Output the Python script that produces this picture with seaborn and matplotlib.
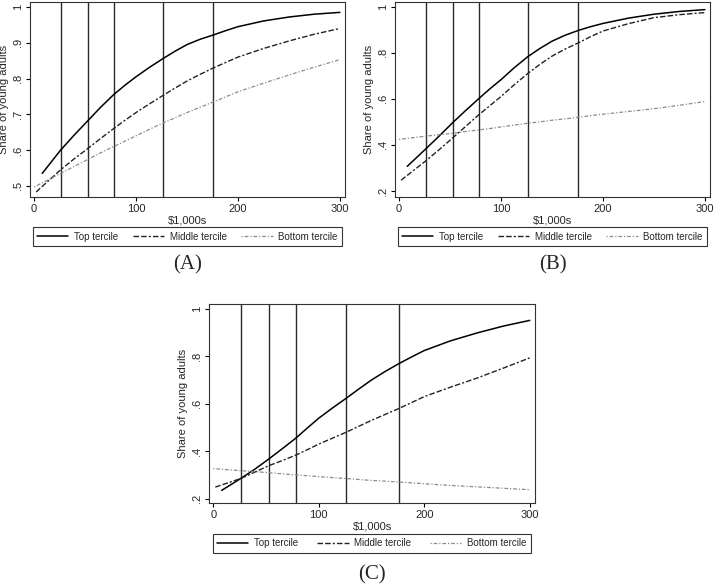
import matplotlib
matplotlib.use("Agg")
import matplotlib.pyplot as plt
import seaborn as sns

grid = [26, 39, 52, 65, 78, 89, 100, 113, 126, 138, 150, 163, 176, 188, 200, 225, 250, 275, 300]
x_top = [8] + grid
x_mid = [2] + grid
x_bot = [0] + grid

# panel A
a_top = [0.535, 0.600, 0.641, 0.680, 0.719, 0.755, 0.781, 0.805, 0.831, 0.855, 0.876,
         0.895, 0.910, 0.922, 0.934, 0.945, 0.961, 0.972, 0.980, 0.985]
a_mid = [0.483, 0.545, 0.575, 0.603, 0.632, 0.660, 0.683, 0.705, 0.729, 0.752, 0.773,
         0.793, 0.812, 0.830, 0.845, 0.860, 0.884, 0.905, 0.924, 0.940]
a_bot = [0.497, 0.535, 0.554, 0.573, 0.592, 0.610, 0.625, 0.640, 0.658, 0.675, 0.690,
         0.705, 0.720, 0.735, 0.749, 0.763, 0.787, 0.810, 0.832, 0.853]

# panel B
b_top = [0.307, 0.382, 0.437, 0.494, 0.548, 0.600, 0.643, 0.683, 0.735, 0.782, 0.818,
         0.850, 0.876, 0.897, 0.913, 0.927, 0.950, 0.967, 0.979, 0.987]
b_mid = [0.247, 0.330, 0.378, 0.428, 0.479, 0.530, 0.570, 0.610, 0.661, 0.709, 0.749,
         0.785, 0.816, 0.843, 0.870, 0.894, 0.926, 0.952, 0.965, 0.974]
b_bot = [0.424, 0.438, 0.444, 0.450, 0.458, 0.465, 0.471, 0.478, 0.486, 0.494, 0.500,
         0.507, 0.513, 0.520, 0.527, 0.533, 0.545, 0.557, 0.572, 0.588]

# panel C
c_top = [0.235, 0.285, 0.323, 0.365, 0.409, 0.454, 0.497, 0.539, 0.582, 0.623, 0.662,
         0.700, 0.736, 0.769, 0.797, 0.824, 0.865, 0.898, 0.927, 0.951]
c_mid = [0.249, 0.285, 0.311, 0.338, 0.360, 0.383, 0.406, 0.430, 0.455, 0.480, 0.505,
         0.530, 0.555, 0.580, 0.605, 0.630, 0.670, 0.708, 0.750, 0.793]
c_bot = [0.327, 0.318, 0.314, 0.310, 0.305, 0.300, 0.297, 0.293, 0.289, 0.285, 0.281,
         0.277, 0.274, 0.270, 0.267, 0.263, 0.256, 0.250, 0.244, 0.238]

cutoffs = [26, 53, 78, 126, 176]
series_names = ["Top tercile", "Middle tercile", "Bottom tercile"]
panel_labels = ["(A)", "(B)", "(C)"]

sns.set_style("white")
plt.rcParams["font.family"] = ["Liberation Sans", "DejaVu Sans"]

W, H = 715, 584
fig = plt.figure(figsize=(W / 100, H / 100), dpi=100)


def make_ax(x0, y0, x1, y1):
    return fig.add_axes([x0 / W, 1 - y1 / H, (x1 - x0) / W, (y1 - y0) / H])


panels = [
    (make_ax(30, 2, 345, 197), a_top, a_mid, a_bot,
     [0.5, 0.6, 0.7, 0.8, 0.9, 1.0], [".5", ".6", ".7", ".8", ".9", "1"], (0.469, 1.014), 1.5),
    (make_ax(395, 2, 710, 197), b_top, b_mid, b_bot,
     [0.2, 0.4, 0.6, 0.8, 1.0], [".2", ".4", ".6", ".8", "1"], (0.174, 1.02), 1.5),
    (make_ax(209, 304, 535, 503), c_top, c_mid, c_bot,
     [0.2, 0.4, 0.6, 0.8, 1.0], [".2", ".4", ".6", ".8", "1"], (0.182, 1.02), 1.95),
]

styles = [
    dict(color="black", linestyle="-", linewidth=1.1),
    dict(color="#222222", dashes=(4, 1.5, 4, 1.5, 1.5, 1.5), linewidth=1.0),
    dict(color="#8c8c8c", dashes=(1, 1.5, 3, 1.5), linewidth=0.9),
]

for i, (ax, top, mid, bot, yt, ytl, ylim, colsp) in enumerate(panels):
    for c in cutoffs:
        ax.axvline(c, color="#2a2a2a", linewidth=1.0, zorder=1)
    for xs, ys, st in zip([x_top, x_mid, x_bot], [top, mid, bot], styles):
        sns.lineplot(x=xs, y=ys, ax=ax, legend=False, **st)
    ax.set_xlim(-4, 305)
    ax.set_ylim(*ylim)
    ax.set_xticks([0, 100, 200, 300])
    ax.set_yticks(yt)
    ax.set_yticklabels(ytl, rotation=90, va="center")
    ax.tick_params(axis="both", direction="out", length=3, width=0.8, labelsize=8,
                   bottom=True, left=True, pad=2, color="black")
    for s in ax.spines.values():
        s.set_color("#333333")
        s.set_linewidth(0.8)
    ax.set_xlabel("$1,000s", fontsize=8, labelpad=1)
    ax.set_ylabel("Share of young adults", fontsize=8, labelpad=3)
    lines = ax.get_lines()[-3:]
    leg = ax.legend(lines, series_names, loc="upper center", bbox_to_anchor=(0.5, -0.155),
                    ncol=3, fontsize=7, frameon=True, fancybox=False, borderpad=0.45,
                    handlelength=3.2, handletextpad=0.6, columnspacing=colsp,
                    borderaxespad=0)
    leg.get_frame().set_edgecolor("black")
    leg.get_frame().set_linewidth(0.8)
    ax.text(0.5, -0.3 if i < 2 else -0.315, panel_labels[i], transform=ax.transAxes,
            ha="center", va="top", fontsize=15, family=["Liberation Serif", "DejaVu Serif"])

fig.savefig("out.png", dpi=100)
